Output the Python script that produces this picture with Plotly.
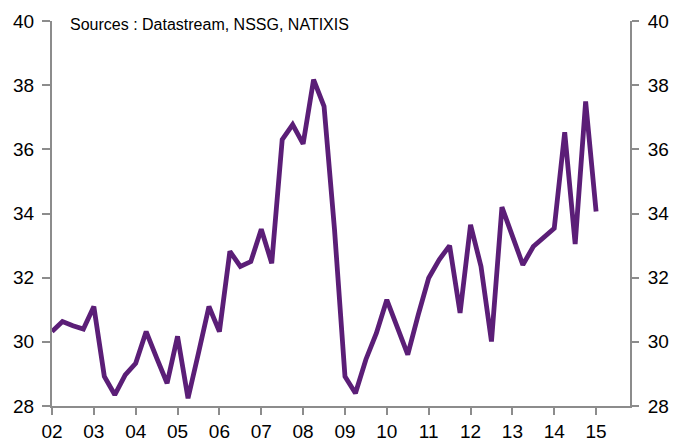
import plotly.graph_objects as go

quarters = [f"{y}Q{q}" for y in range(2002, 2016) for q in range(1, 5)][:53]
values = [30.32, 30.63, 30.5, 30.4, 31.1, 28.92, 28.35, 28.97, 29.33, 30.32,
          29.5, 28.71, 30.17, 28.24, 29.65, 31.1, 30.32, 32.82, 32.35, 32.5,
          33.51, 32.45, 36.3, 36.77, 36.17, 38.17, 37.34, 33.5, 28.92, 28.4,
          29.45, 30.27, 31.31, 30.43, 29.6, 30.84, 31.99, 32.56, 33.0, 30.9,
          33.65, 32.35, 30.01, 34.2, 33.34, 32.4, 32.97, 33.28, 33.54, 36.53,
          33.05, 37.49, 34.06]
tick_years = list(range(2002, 2016))
tick_labels = [f"{y % 100:02d}" for y in tick_years]
y_ticks = [28, 30, 32, 34, 36, 38, 40]

x = [int(q[:4]) + (int(q[-1]) - 1) / 4 for q in quarters]

FONT = "Arial, 'Liberation Sans', sans-serif"
AX = "#8c8c8c"

fig = go.Figure()
fig.add_trace(go.Scatter(x=x, y=values, mode="lines",
                         line=dict(color="#5B1E77", width=4.8),
                         hoverinfo="skip", showlegend=False))
fig.add_trace(go.Scatter(x=x, y=values, mode="lines", yaxis="y2",
                         line=dict(color="rgba(0,0,0,0)", width=0),
                         hoverinfo="skip", showlegend=False))

common = dict(showgrid=False, zeroline=False, showline=True, linecolor=AX,
              linewidth=2, ticks="outside", tickwidth=2, tickcolor=AX,
              tickfont=dict(size=19), automargin=False)

fig.update_layout(
    width=673, height=441,
    margin=dict(l=52, r=43, t=21, b=35),
    paper_bgcolor="white", plot_bgcolor="white",
    font=dict(family=FONT, color="#000000", size=19),
    xaxis=dict(range=[2002, 2015.81], tickvals=tick_years, ticktext=tick_labels,
               ticklen=7, **common),
    yaxis=dict(range=[28, 40], tickvals=y_ticks, ticklen=8,
               ticklabelstandoff=4, **common),
    yaxis2=dict(range=[28, 40], tickvals=y_ticks, overlaying="y", side="right",
                ticklen=7, ticklabelstandoff=5, **common),
    annotations=[dict(text="Sources : Datastream, NSSG, NATIXIS",
                      xref="paper", yref="paper", x=0.028, y=0.99,
                      xanchor="left", yanchor="middle", showarrow=False,
                      font=dict(size=16, family=FONT, color="#000000"))],
)

fig.write_html("out.html", config={"displayModeBar": False},
               post_script="document.body.style.margin='0';document.body.style.overflow='hidden';")
